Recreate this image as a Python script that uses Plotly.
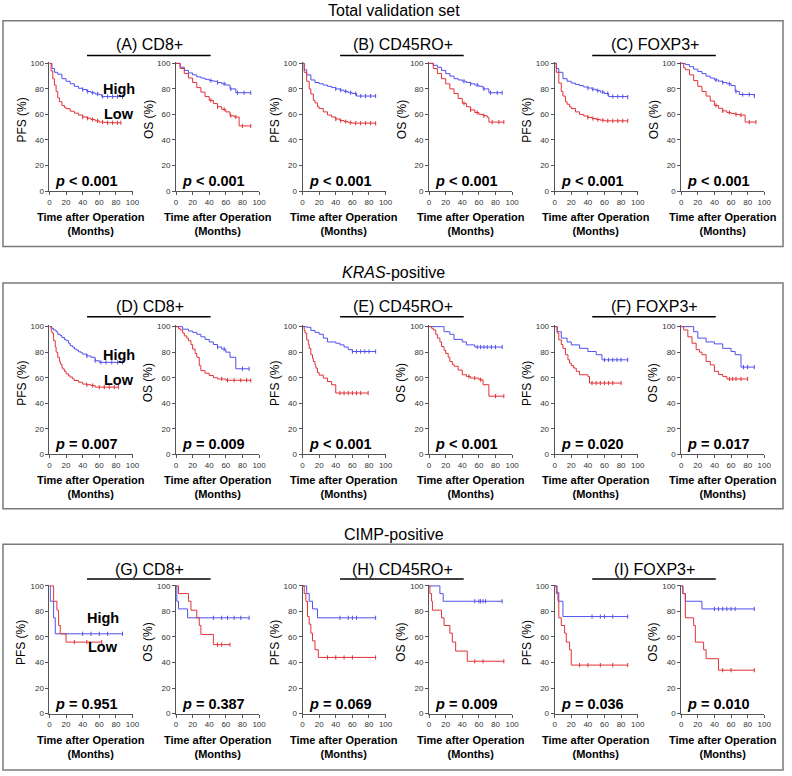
import plotly.graph_objects as go

# ---------------- DATA (Kaplan-Meier step points: time in months, survival %) ----------------
# Section 1: Total validation set
A_PFS_HI_T = [0, 3, 6, 10, 15, 20, 25, 30, 35, 40, 45, 50, 55, 60, 63, 88]
A_PFS_HI_S = [100, 96, 93, 91.5, 88, 86, 84, 82, 80.5, 79.5, 78, 77, 76, 75.5, 74, 74]
A_PFS_LO_T = [0, 2, 4, 6, 8, 10, 12, 15, 18, 20, 25, 30, 35, 40, 45, 50, 55, 60, 65, 70, 86]
A_PFS_LO_S = [100, 94, 88, 83, 78, 73, 70, 67, 65.5, 64.5, 62.5, 61, 59.5, 58, 57, 56, 55, 54, 53.8, 53.5, 53.5]
A_OS_HI_T = [0, 5, 10, 15, 20, 25, 30, 35, 40, 45, 50, 55, 60, 65, 72, 90]
A_OS_HI_S = [100, 97, 94.5, 92.5, 91, 89.5, 88.5, 87.5, 86.5, 86, 85, 84, 83, 80, 77, 77]
A_OS_LO_T = [0, 5, 10, 15, 20, 25, 30, 35, 40, 45, 50, 55, 60, 65, 70, 76, 90]
A_OS_LO_S = [100, 96, 92, 88.5, 85, 81, 77.5, 74, 71, 68.5, 66, 64, 62, 59, 58, 51, 51]

B_PFS_HI_T = [0, 2, 5, 10, 15, 20, 25, 30, 35, 40, 45, 50, 55, 60, 65, 88]
B_PFS_HI_S = [100, 95, 91, 87, 85, 84, 83, 82, 81, 80, 79, 78, 77, 76.4, 74.4, 74.4]
B_PFS_LO_T = [0, 2, 5, 8, 10, 13, 15, 18, 20, 25, 30, 35, 40, 45, 50, 55, 60, 88]
B_PFS_LO_S = [100, 93, 86, 80, 76, 71, 69, 66, 64.6, 62, 59.5, 58, 56.4, 55.2, 54.4, 53.6, 53.2, 53]
B_OS_HI_T = [0, 5, 10, 15, 20, 25, 30, 35, 40, 45, 50, 55, 60, 65, 72, 88]
B_OS_HI_S = [100, 98.5, 97, 94.5, 92, 90, 88, 87, 86, 85, 84, 83, 82, 80, 77, 77]
B_OS_LO_T = [0, 5, 10, 15, 20, 25, 30, 35, 40, 45, 50, 55, 60, 65, 70, 72, 90]
B_OS_LO_S = [100, 96, 92, 88, 84, 80, 76.4, 72.5, 68.7, 66, 63.6, 61.5, 60, 59, 57.7, 54, 54]

C_PFS_HI_T = [0, 2, 5, 10, 15, 20, 25, 30, 35, 40, 45, 50, 55, 60, 65, 88]
C_PFS_HI_S = [100, 96, 93, 88, 86, 84.6, 83.5, 82.5, 81.5, 80.7, 79.7, 78.7, 77.5, 76.4, 74, 73.6]
C_PFS_LO_T = [0, 2, 5, 8, 10, 13, 15, 18, 20, 25, 30, 35, 40, 45, 50, 55, 60, 88]
C_PFS_LO_S = [100, 93, 84.6, 78, 74.4, 70, 68, 66, 64.6, 62, 60, 58.8, 57.7, 56.8, 56, 55.5, 55, 55]
C_OS_HI_T = [0, 5, 10, 15, 20, 25, 30, 35, 40, 45, 50, 55, 60, 65, 70, 88]
C_OS_HI_S = [100, 99, 97.4, 95.5, 93.6, 92, 90, 88.5, 87, 86, 85, 84, 82.6, 78, 75.6, 74.4]
C_OS_LO_T = [0, 3, 5, 10, 15, 20, 25, 30, 35, 40, 45, 50, 55, 60, 65, 70, 77, 90]
C_OS_LO_S = [100, 96.5, 95, 91, 86.5, 82, 78, 74.4, 70.5, 67, 64.8, 62.8, 61.5, 60.7, 60, 59.5, 54, 54]

# Section 2: KRAS-positive
D_PFS_HI_T = [0, 3, 5, 8, 10, 13, 15, 18, 20, 23, 25, 28, 30, 33, 35, 38, 40, 45, 50, 55, 60, 88]
D_PFS_HI_S = [100, 98.5, 97.4, 96, 94, 93, 91.5, 90, 89, 87, 85, 84, 82.4, 81.5, 80.3, 79.5, 78.5, 77, 76, 73.3, 72, 72]
D_PFS_LO_T = [0, 2, 3, 5, 7, 8, 10, 12, 13, 15, 16, 18, 20, 23, 25, 28, 30, 35, 40, 45, 50, 55, 83]
D_PFS_LO_S = [100, 97, 95, 89, 84, 80, 76, 73, 70.7, 68, 66.8, 65, 63, 61.5, 60.4, 59, 57.8, 56.5, 55, 54.5, 53.9, 52.6, 52.6]
D_OS_HI_T = [0, 8, 15, 20, 25, 30, 35, 40, 45, 50, 55, 60, 65, 72, 88]
D_OS_HI_S = [100, 98, 96.6, 95.5, 94, 92, 90, 88, 86, 84, 82.4, 80, 76, 67, 67]
D_OS_LO_T = [0, 3, 5, 8, 10, 13, 15, 18, 20, 23, 25, 28, 30, 35, 40, 45, 50, 60, 90]
D_OS_LO_S = [100, 98.5, 97.4, 95, 92.7, 91, 89, 86, 82.4, 79, 76, 69.4, 65.5, 63.5, 61.7, 60, 59, 58, 57.8]

E_PFS_HI_T = [0, 5, 10, 15, 20, 25, 30, 40, 45, 50, 55, 60, 88]
E_PFS_HI_S = [100, 99.5, 97, 95.5, 94, 91, 88, 87, 85.7, 84, 82, 80.5, 80.5]
E_PFS_LO_T = [0, 2, 3, 5, 7, 8, 10, 12, 13, 15, 16, 18, 20, 25, 30, 35, 40, 79]
E_PFS_LO_S = [100, 97, 95, 89.6, 86, 83, 78, 75, 72.7, 70, 67.5, 64, 62, 59.7, 57, 54.5, 48, 48]
E_OS_HI_T = [0, 15, 18, 25, 30, 40, 45, 55, 88]
E_OS_HI_S = [100, 100, 96, 94, 90, 88, 85.7, 84, 84]
E_OS_LO_T = [0, 3, 5, 8, 10, 13, 15, 18, 20, 23, 25, 28, 30, 35, 40, 45, 50, 60, 65, 72, 90]
E_OS_LO_S = [100, 98.7, 97.4, 94, 91, 88, 84.4, 81.5, 79, 76, 72.7, 70.5, 69, 66, 62.3, 61, 59.7, 58.4, 54.5, 45.5, 45.5]

F_PFS_HI_T = [0, 3, 8, 15, 20, 30, 40, 50, 57, 88]
F_PFS_HI_S = [100, 96, 91, 88, 85.7, 83, 80.5, 78, 74, 74]
F_PFS_LO_T = [0, 3, 5, 8, 10, 13, 16, 18, 20, 23, 26, 30, 40, 42, 80]
F_PFS_LO_S = [100, 95, 89.6, 86, 83, 78, 74, 71.4, 69.5, 67.5, 65, 62.3, 61, 55.8, 55.8]
F_OS_HI_T = [0, 12, 15, 20, 30, 40, 50, 60, 65, 72, 88]
F_OS_HI_S = [100, 100, 96, 91, 88, 86.5, 83, 80.5, 78, 68.3, 68.3]
F_OS_LO_T = [0, 3, 8, 13, 18, 22, 25, 30, 35, 40, 45, 50, 55, 80]
F_OS_LO_S = [100, 97.4, 92, 87, 82, 80, 78, 72.7, 70, 65, 62.5, 61, 59, 59]

# Section 3: CIMP-positive
G_PFS_HI_T = [0, 1, 5, 7, 88]
G_PFS_HI_S = [100, 88, 75, 62.5, 62.5]
G_PFS_LO_T = [0, 5, 9, 11, 13, 20, 63]
G_PFS_LO_S = [100, 88, 81, 69, 62.5, 56, 56]
G_OS_HI_T = [0, 1, 3, 14, 88]
G_OS_HI_S = [100, 88, 82, 75, 75]
G_OS_LO_T = [0, 3, 15, 18, 25, 28, 30, 45, 65]
G_OS_LO_S = [100, 94, 88, 81, 75, 69, 62, 54, 54]

H_PFS_HI_T = [0, 5, 8, 12, 18, 88]
H_PFS_HI_S = [100, 94, 88, 82, 75, 75]
H_PFS_LO_T = [0, 2, 4, 6, 8, 10, 12, 15, 19, 88]
H_PFS_LO_S = [100, 94, 88, 76, 70, 63, 57, 50, 44, 44]
H_OS_HI_T = [0, 13, 17, 88]
H_OS_HI_S = [100, 94, 88, 88]
H_OS_LO_T = [0, 1, 3, 4, 15, 18, 25, 28, 32, 46, 90]
H_OS_LO_S = [100, 94, 88, 81, 75, 69, 63, 56, 49, 41, 41]

I_PFS_HI_T = [0, 3, 5, 10, 88]
I_PFS_HI_S = [100, 95, 88, 76, 76]
I_PFS_LO_T = [0, 2, 4, 5, 8, 12, 14, 18, 20, 88]
I_PFS_LO_S = [100, 94, 88, 75, 69, 63, 56, 50, 38, 38]
I_OS_HI_T = [0, 2, 5, 25, 88]
I_OS_HI_S = [100, 94, 88, 82, 82]
I_OS_LO_T = [0, 2, 5, 15, 17, 27, 30, 45, 88]
I_OS_LO_S = [100, 94, 75, 69, 56, 50, 43, 34, 34]

# Censoring times (tick marks on the curves)
A_PFS_HI_C = [40, 46, 52, 58, 64, 70, 76, 82, 88]
A_PFS_LO_C = [40, 46, 52, 58, 64, 70, 76, 82, 86]
A_OS_HI_C = [42, 50, 58, 66, 74, 82, 90]
A_OS_LO_C = [42, 50, 58, 66, 72, 80, 90]
B_PFS_HI_C = [40, 46, 52, 58, 64, 70, 76, 82, 88]
B_PFS_LO_C = [40, 46, 52, 58, 64, 70, 76, 82, 88]
B_OS_HI_C = [42, 50, 58, 66, 74, 82, 88]
B_OS_LO_C = [42, 50, 58, 66, 76, 84, 90]
C_PFS_HI_C = [40, 46, 52, 58, 64, 70, 76, 82, 88]
C_PFS_LO_C = [40, 46, 52, 58, 64, 70, 76, 82, 88]
C_OS_HI_C = [42, 50, 58, 66, 74, 82, 88]
C_OS_LO_C = [42, 50, 58, 66, 72, 82, 90]
D_PFS_HI_C = [45, 55, 62, 68, 75, 82, 88]
D_PFS_LO_C = [45, 52, 60, 66, 72, 78, 83]
D_OS_HI_C = [50, 58, 80, 88]
D_OS_LO_C = [55, 62, 70, 78, 85, 90]
E_PFS_HI_C = [60, 65, 70, 75, 80, 88]
E_PFS_LO_C = [45, 50, 55, 60, 65, 70, 79]
E_OS_HI_C = [58, 62, 66, 70, 75, 80, 88]
E_OS_LO_C = [48, 55, 62, 80, 90]
F_PFS_HI_C = [60, 65, 70, 75, 80, 88]
F_PFS_LO_C = [45, 50, 55, 60, 65, 70, 80]
F_OS_HI_C = [75, 80, 88]
F_OS_LO_C = [58, 62, 66, 72, 80]
G_PFS_HI_C = [40, 50, 60, 70, 88]
G_PFS_LO_C = [30, 45, 63]
G_OS_HI_C = [45, 55, 62, 70, 78, 88]
G_OS_LO_C = [50, 55, 65]
H_PFS_HI_C = [45, 55, 60, 65, 88]
H_PFS_LO_C = [30, 40, 50, 60, 88]
H_OS_HI_C = [55, 60, 62, 65, 68, 88]
H_OS_LO_C = [55, 65, 90]
I_PFS_HI_C = [45, 55, 60, 70, 88]
I_PFS_LO_C = [30, 40, 55, 70, 88]
I_OS_HI_C = [40, 45, 50, 55, 60, 65, 88]
I_OS_LO_C = [50, 60, 88]

SECTION_TITLES = ["Total validation set", "<i>KRAS</i>-positive", "CIMP-positive"]
HEADERS = [["(A) CD8+", "(B) CD45RO+", "(C) FOXP3+"],
           ["(D) CD8+", "(E) CD45RO+", "(F) FOXP3+"],
           ["(G) CD8+", "(H) CD45RO+", "(I) FOXP3+"]]
P_VALUES = [["< 0.001", "< 0.001", "< 0.001", "< 0.001", "< 0.001", "< 0.001"],
            ["= 0.007", "= 0.009", "< 0.001", "< 0.001", "= 0.020", "= 0.017"],
            ["= 0.951", "= 0.387", "= 0.069", "= 0.009", "= 0.036", "= 0.010"]]
Y_LABELS = ["PFS (%)", "OS (%)"]
X_LABEL = "<b>Time after Operation<br>(Months)</b>"
X_TICKS = [0, 20, 40, 60, 80, 100]
Y_TICKS = [0, 20, 40, 60, 80, 100]

CURVES = [
    [(A_PFS_HI_T, A_PFS_HI_S, A_PFS_HI_C, A_PFS_LO_T, A_PFS_LO_S, A_PFS_LO_C),
     (A_OS_HI_T, A_OS_HI_S, A_OS_HI_C, A_OS_LO_T, A_OS_LO_S, A_OS_LO_C),
     (B_PFS_HI_T, B_PFS_HI_S, B_PFS_HI_C, B_PFS_LO_T, B_PFS_LO_S, B_PFS_LO_C),
     (B_OS_HI_T, B_OS_HI_S, B_OS_HI_C, B_OS_LO_T, B_OS_LO_S, B_OS_LO_C),
     (C_PFS_HI_T, C_PFS_HI_S, C_PFS_HI_C, C_PFS_LO_T, C_PFS_LO_S, C_PFS_LO_C),
     (C_OS_HI_T, C_OS_HI_S, C_OS_HI_C, C_OS_LO_T, C_OS_LO_S, C_OS_LO_C)],
    [(D_PFS_HI_T, D_PFS_HI_S, D_PFS_HI_C, D_PFS_LO_T, D_PFS_LO_S, D_PFS_LO_C),
     (D_OS_HI_T, D_OS_HI_S, D_OS_HI_C, D_OS_LO_T, D_OS_LO_S, D_OS_LO_C),
     (E_PFS_HI_T, E_PFS_HI_S, E_PFS_HI_C, E_PFS_LO_T, E_PFS_LO_S, E_PFS_LO_C),
     (E_OS_HI_T, E_OS_HI_S, E_OS_HI_C, E_OS_LO_T, E_OS_LO_S, E_OS_LO_C),
     (F_PFS_HI_T, F_PFS_HI_S, F_PFS_HI_C, F_PFS_LO_T, F_PFS_LO_S, F_PFS_LO_C),
     (F_OS_HI_T, F_OS_HI_S, F_OS_HI_C, F_OS_LO_T, F_OS_LO_S, F_OS_LO_C)],
    [(G_PFS_HI_T, G_PFS_HI_S, G_PFS_HI_C, G_PFS_LO_T, G_PFS_LO_S, G_PFS_LO_C),
     (G_OS_HI_T, G_OS_HI_S, G_OS_HI_C, G_OS_LO_T, G_OS_LO_S, G_OS_LO_C),
     (H_PFS_HI_T, H_PFS_HI_S, H_PFS_HI_C, H_PFS_LO_T, H_PFS_LO_S, H_PFS_LO_C),
     (H_OS_HI_T, H_OS_HI_S, H_OS_HI_C, H_OS_LO_T, H_OS_LO_S, H_OS_LO_C),
     (I_PFS_HI_T, I_PFS_HI_S, I_PFS_HI_C, I_PFS_LO_T, I_PFS_LO_S, I_PFS_LO_C),
     (I_OS_HI_T, I_OS_HI_S, I_OS_HI_C, I_OS_LO_T, I_OS_LO_S, I_OS_LO_C)],
]
# High / Low group labels (data coordinates in the first PFS panel of each section)
HILO_POS = [((62, 80), (63.5, 60)), ((62, 78), (63.5, 58)), ((43, 75), (44, 52))]

# ---------------- LAYOUT (pixel geometry) ----------------
W, H = 792, 776
FONT = "Arial, Liberation Sans, sans-serif"
BLUE = "#5050ec"
RED = "#e23236"
AX_COL = "#555555"

COL_X = [48, 176, 304, 432, 559, 687]    # pixel x of time 0 for each column
PLOT_W = 84                               # pixels for 0..100 months
SEC_TOP = [61, 327, 589]                  # pixel y of 100 %
SEC_BOT = [190, 456, 718]                 # pixel y of 0 %
TITLE_Y = [8, 272, 537]
BOX_Y = [(18, 246), (283, 511), (547, 775)]
HEAD_Y = [42, 307, 572]
HLINE_Y = [53, 317, 582]
Y_MAX = 101


def px(x):
    return x / W


def py(y):
    return 1 - y / H


def step_value(T, S, t):
    v = S[0]
    for ti, si in zip(T, S):
        if ti <= t:
            v = si
    return v


fig = go.Figure()
annotations = []
shapes = []

k = 0
for s in range(3):
    top_px = SEC_TOP[s] - (SEC_BOT[s] - SEC_TOP[s]) * (Y_MAX - 100) / 100
    shapes.append(dict(type="rect", xref="paper", yref="paper",
                       x0=px(1), x1=px(790), y0=py(BOX_Y[s][1]), y1=py(BOX_Y[s][0]),
                       line=dict(color="#7a7a7a", width=1.5), fillcolor="rgba(0,0,0,0)"))
    annotations.append(dict(text=SECTION_TITLES[s], xref="paper", yref="paper",
                            x=px(396), y=py(TITLE_Y[s]), xanchor="center", yanchor="middle",
                            showarrow=False, font=dict(size=16, color="#000", family=FONT)))
    for g in range(3):
        x_l = COL_X[2 * g] + 38
        x_r = COL_X[2 * g + 1] + 35
        shapes.append(dict(type="line", xref="paper", yref="paper",
                           x0=px(x_l), x1=px(x_r), y0=py(HLINE_Y[s]), y1=py(HLINE_Y[s]),
                           line=dict(color="#000", width=1.5)))
        annotations.append(dict(text=HEADERS[s][g], xref="paper", yref="paper",
                                x=px((x_l + x_r) / 2 + 1), y=py(HEAD_Y[s]),
                                xanchor="center", yanchor="middle", showarrow=False,
                                font=dict(size=16, color="#000", family=FONT)))
    for c in range(6):
        k += 1
        xa = "x" if k == 1 else f"x{k}"
        ya = "y" if k == 1 else f"y{k}"
        hiT, hiS, hiC, loT, loS, loC = CURVES[s][c]
        for T, S, C, col, nm in ((hiT, hiS, hiC, BLUE, "High"), (loT, loS, loC, RED, "Low")):
            fig.add_trace(go.Scatter(x=T, y=S, mode="lines", line=dict(color=col, width=1, shape="hv"),
                                     name=nm, showlegend=False, xaxis=xa, yaxis=ya, hoverinfo="skip"))
            fig.add_trace(go.Scatter(x=C, y=[step_value(T, S, t) for t in C], mode="markers",
                                     marker=dict(symbol="line-ns", size=3, line=dict(color=col, width=1)),
                                     name=nm + " censored", showlegend=False, xaxis=xa, yaxis=ya,
                                     hoverinfo="skip"))
        x0 = COL_X[c]
        axis_common = dict(showline=True, linecolor=AX_COL, linewidth=1, ticks="outside",
                           ticklen=3, tickwidth=1, tickcolor=AX_COL, showgrid=False, zeroline=False,
                           tickfont=dict(size=8, color="#333", family=FONT), fixedrange=True)
        fig.layout[f"xaxis{k}"] = dict(domain=[px(x0), px(x0 + PLOT_W)], range=[0, 100],
                                       tickvals=X_TICKS, anchor=ya, **axis_common)
        fig.layout[f"yaxis{k}"] = dict(domain=[py(SEC_BOT[s]), py(top_px)], range=[0, Y_MAX],
                                       tickvals=Y_TICKS, anchor=xa, **axis_common)
        annotations.append(dict(text=Y_LABELS[c % 2], xref="paper", yref="paper",
                                x=px(x0 - 28), y=py(SEC_TOP[s] + 57), textangle=-90,
                                xanchor="center", yanchor="middle", showarrow=False,
                                font=dict(size=12, color="#000", family=FONT)))
        annotations.append(dict(text=X_LABEL, xref="paper", yref="paper",
                                x=px(x0 + PLOT_W / 2), y=py(SEC_BOT[s] + 33.5),
                                xanchor="center", yanchor="middle", showarrow=False,
                                font=dict(size=11, color="#000", family=FONT)))
        annotations.append(dict(text=f"<b><i>p</i> {P_VALUES[s][c]}</b>", xref="paper", yref="paper",
                                x=px(x0 + 4), y=py(SEC_BOT[s] - 10), xanchor="left", yanchor="middle",
                                showarrow=False, font=dict(size=14.5, color="#000", family=FONT)))
        if c == 0:
            (hx, hy), (lx, ly) = HILO_POS[s]
            for txt, (tx, ty) in (("High", (hx, hy)), ("Low", (lx, ly))):
                annotations.append(dict(text=f"<b>{txt}</b>", xref=xa, yref=ya, x=tx, y=ty,
                                        xanchor="left", yanchor="middle", showarrow=False,
                                        font=dict(size=14.5, color="#000", family=FONT)))

fig.update_layout(width=W, height=H, margin=dict(l=0, r=0, t=0, b=0),
                  paper_bgcolor="white", plot_bgcolor="white",
                  annotations=annotations, shapes=shapes, showlegend=False,
                  font=dict(family=FONT))

POST_JS = """
var st = document.createElement('style');
st.innerHTML = 'html,body{margin:0!important;padding:0!important;overflow:hidden!important;'
  + 'width:792px;height:776px;}'
  + '.plotly-graph-div{position:absolute!important;left:0;top:0;}';
document.head.appendChild(st);
"""

fig.write_html("out.html", config={"displayModeBar": False, "responsive": False},
               post_script=POST_JS)
